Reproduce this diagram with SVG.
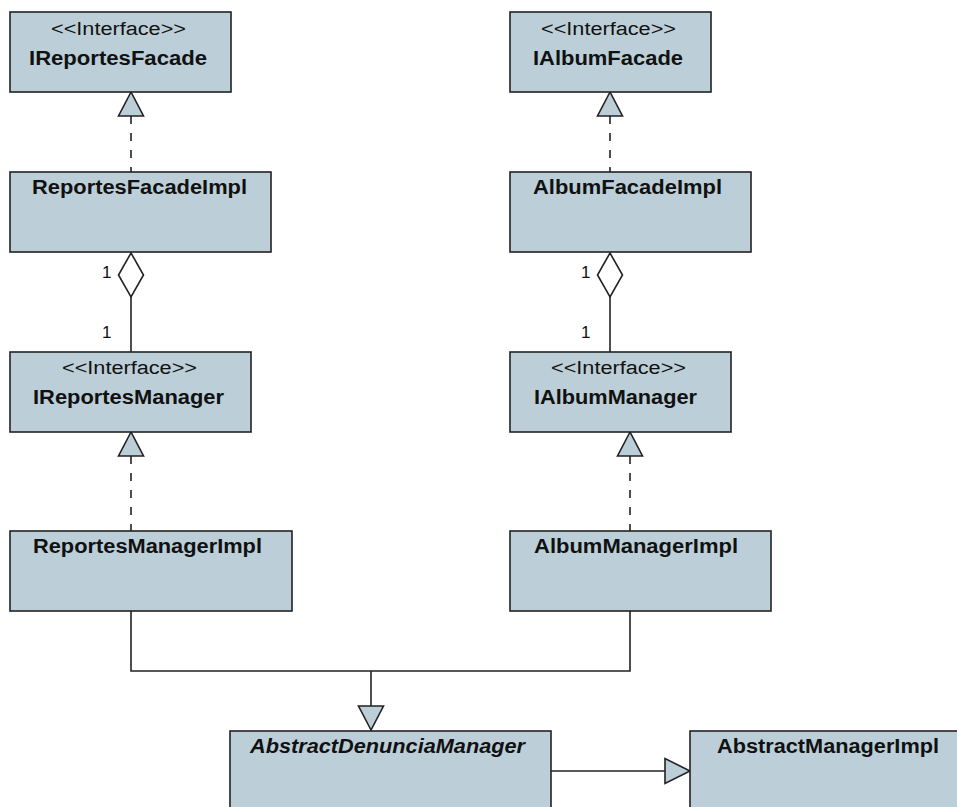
<svg xmlns="http://www.w3.org/2000/svg" width="957" height="807" viewBox="0 0 957 807">
  <style>
    .box { fill: #bccfd8; stroke: #222; stroke-width: 1.6; }
    .line { fill: none; stroke: #222; stroke-width: 1.6; }
    .dash { fill: none; stroke: #222; stroke-width: 1.6; stroke-dasharray: 8 9; }
    .tri { fill: #bccfd8; stroke: #222; stroke-width: 1.6; stroke-linejoin: miter; }
    .dia { fill: #ffffff; stroke: #222; stroke-width: 1.6; }
    .stereo { font-family: "Liberation Sans", Arial, sans-serif; font-size: 18px; fill: #111; text-anchor: middle; }
    .name { font-family: "Liberation Sans", Arial, sans-serif; font-size: 20px; font-weight: bold; fill: #111; text-anchor: middle; }
    .abstract { font-style: italic; }
    .mult { font-family: "Liberation Sans", Arial, sans-serif; font-size: 17px; fill: #111; }
  </style>
  <rect width="957" height="807" fill="#ffffff"/>

  <!-- connectors -->
  <g id="connectors">
    <!-- ReportesFacadeImpl realizes IReportesFacade -->
    <line class="dash" x1="131" y1="116" x2="131" y2="172"/>
    <polygon class="tri" points="131,92 118.5,116 143.5,116"/>
    <!-- AlbumFacadeImpl realizes IAlbumFacade -->
    <line class="dash" x1="610" y1="116" x2="610" y2="172"/>
    <polygon class="tri" points="610,92 597.5,116 622.5,116"/>

    <!-- ReportesFacadeImpl aggregates IReportesManager -->
    <line class="line" x1="131" y1="297" x2="131" y2="352"/>
    <polygon class="dia" points="131,253 143.5,275 131,297 118.5,275"/>
    <text class="mult" x="102" y="278">1</text>
    <text class="mult" x="102" y="338">1</text>
    <!-- AlbumFacadeImpl aggregates IAlbumManager -->
    <line class="line" x1="610" y1="297" x2="610" y2="352"/>
    <polygon class="dia" points="610,253 622.5,275 610,297 597.5,275"/>
    <text class="mult" x="581" y="278">1</text>
    <text class="mult" x="581" y="338">1</text>

    <!-- ReportesManagerImpl realizes IReportesManager -->
    <line class="dash" x1="131" y1="456" x2="131" y2="531"/>
    <polygon class="tri" points="131,432 118.5,456 143.5,456"/>
    <!-- AlbumManagerImpl realizes IAlbumManager -->
    <line class="dash" x1="630" y1="456" x2="630" y2="531"/>
    <polygon class="tri" points="630,432 617.5,456 642.5,456"/>

    <!-- both managers extend AbstractDenunciaManager -->
    <polyline class="line" points="131,611 131,671 630,671 630,611"/>
    <line class="line" x1="371" y1="671" x2="371" y2="706"/>
    <polygon class="tri" points="371,730 358.5,706 383.5,706"/>

    <!-- AbstractDenunciaManager extends AbstractManagerImpl -->
    <line class="line" x1="551" y1="771" x2="665" y2="771"/>
    <polygon class="tri" points="690,771 665,758.5 665,783.5"/>
  </g>

  <!-- nodes -->
  <g id="IReportesFacade">
    <rect class="box" x="10" y="12" width="221" height="80"/>
    <text class="stereo" x="118.5" y="35" textLength="135" lengthAdjust="spacingAndGlyphs">&lt;&lt;Interface&gt;&gt;</text>
    <text class="name" x="118" y="65" textLength="178" lengthAdjust="spacingAndGlyphs">IReportesFacade</text>
  </g>

  <g id="IAlbumFacade">
    <rect class="box" x="510" y="12" width="201" height="80"/>
    <text class="stereo" x="608.5" y="35" textLength="135" lengthAdjust="spacingAndGlyphs">&lt;&lt;Interface&gt;&gt;</text>
    <text class="name" x="608" y="65" textLength="150" lengthAdjust="spacingAndGlyphs">IAlbumFacade</text>
  </g>

  <g id="ReportesFacadeImpl">
    <rect class="box" x="10" y="172" width="261" height="80"/>
    <text class="name" x="139.5" y="194" textLength="215" lengthAdjust="spacingAndGlyphs">ReportesFacadeImpl</text>
  </g>

  <g id="AlbumFacadeImpl">
    <rect class="box" x="510" y="172" width="241" height="80"/>
    <text class="name" x="627.5" y="194" textLength="189" lengthAdjust="spacingAndGlyphs">AlbumFacadeImpl</text>
  </g>

  <g id="IReportesManager">
    <rect class="box" x="10" y="352" width="241" height="80"/>
    <text class="stereo" x="129.5" y="374" textLength="135" lengthAdjust="spacingAndGlyphs">&lt;&lt;Interface&gt;&gt;</text>
    <text class="name" x="128.5" y="404" textLength="191" lengthAdjust="spacingAndGlyphs">IReportesManager</text>
  </g>

  <g id="IAlbumManager">
    <rect class="box" x="510" y="352" width="221" height="80"/>
    <text class="stereo" x="618.5" y="374" textLength="135" lengthAdjust="spacingAndGlyphs">&lt;&lt;Interface&gt;&gt;</text>
    <text class="name" x="615.5" y="404" textLength="163" lengthAdjust="spacingAndGlyphs">IAlbumManager</text>
  </g>

  <g id="ReportesManagerImpl">
    <rect class="box" x="10" y="531" width="282" height="80"/>
    <text class="name" x="147.5" y="553" textLength="229" lengthAdjust="spacingAndGlyphs">ReportesManagerImpl</text>
  </g>

  <g id="AlbumManagerImpl">
    <rect class="box" x="510" y="531" width="261" height="80"/>
    <text class="name" x="636" y="553" textLength="204" lengthAdjust="spacingAndGlyphs">AlbumManagerImpl</text>
  </g>

  <g id="AbstractDenunciaManager">
    <rect class="box" x="230" y="731" width="321" height="90"/>
    <text class="name abstract" x="387.5" y="753" textLength="275" lengthAdjust="spacingAndGlyphs">AbstractDenunciaManager</text>
  </g>

  <g id="AbstractManagerImpl">
    <rect class="box" x="690" y="731" width="290" height="90"/>
    <text class="name" x="828" y="753" textLength="222" lengthAdjust="spacingAndGlyphs">AbstractManagerImpl</text>
  </g>
</svg>
